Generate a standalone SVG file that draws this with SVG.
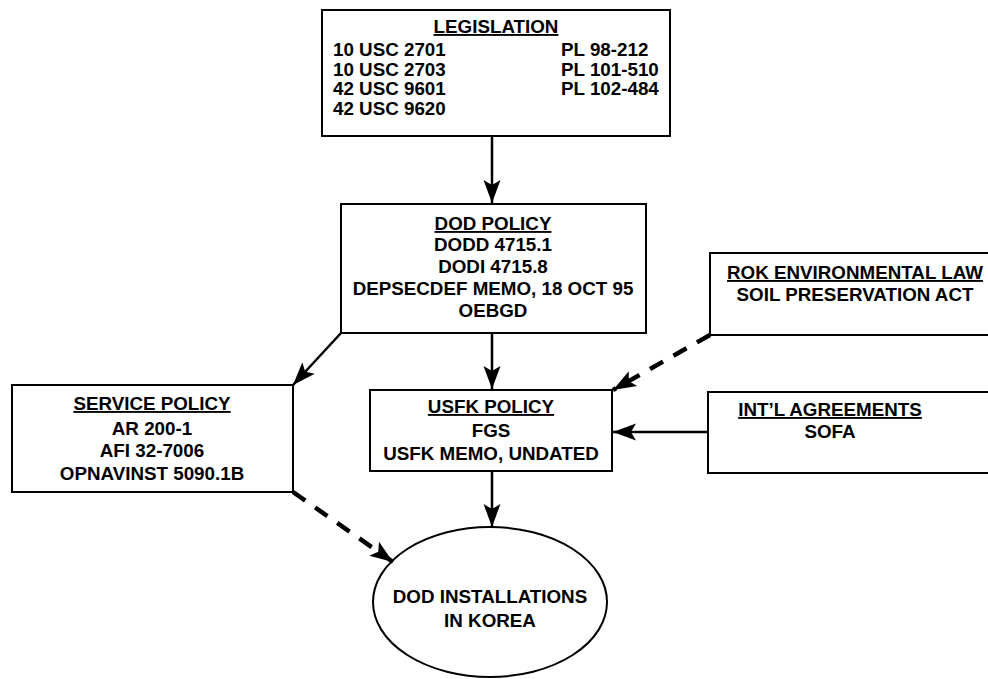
<svg xmlns="http://www.w3.org/2000/svg" width="988" height="679" viewBox="0 0 988 679">
<style>
.box{fill:#fff;stroke:#000;stroke-width:2}
.t{font-family:"Liberation Sans",Arial,sans-serif;font-weight:bold;font-size:18.8px;fill:#000}
.c{text-anchor:middle}
.u{text-decoration:underline}
.ln{fill:none;stroke:#000;stroke-width:2.5}
.dash{fill:none;stroke:#000;stroke-width:4.5;stroke-dasharray:15 12}
</style>
<defs>
<marker id="ah" markerUnits="userSpaceOnUse" markerWidth="26" markerHeight="18" refX="23" refY="8.5" orient="auto" overflow="visible">
<path d="M0,0 L23,8.5 L0,17 L5,8.5 Z" fill="#000"/>
</marker>
</defs>
<rect width="988" height="679" fill="#fff"/>
<g id="legislation">
<rect class="box" x="322" y="10" width="348" height="126"/>
<text class="t c u" x="496" y="33">LEGISLATION</text>
<text class="t" x="333" y="56">10 USC 2701</text>
<text class="t" x="333" y="76">10 USC 2703</text>
<text class="t" x="333" y="95">42 USC 9601</text>
<text class="t" x="333" y="115">42 USC 9620</text>
<text class="t" x="561" y="56">PL 98-212</text>
<text class="t" x="561" y="76">PL 101-510</text>
<text class="t" x="561" y="95">PL 102-484</text>
</g>
<g id="dod-policy">
<rect class="box" x="341" y="204" width="305" height="129"/>
<text class="t c u" x="493" y="230">DOD POLICY</text>
<text class="t c" x="493" y="251">DODD 4715.1</text>
<text class="t c" x="493" y="273">DODI 4715.8</text>
<text class="t c" x="493" y="295">DEPSECDEF MEMO, 18 OCT 95</text>
<text class="t c" x="493" y="317">OEBGD</text>
</g>
<g id="rok-law">
<rect class="box" x="710" y="253" width="290" height="82"/>
<text class="t c u" x="855" y="279">ROK ENVIRONMENTAL LAW</text>
<text class="t c" x="855" y="301">SOIL PRESERVATION ACT</text>
</g>
<g id="service-policy">
<rect class="box" x="12" y="385" width="281" height="107"/>
<text class="t c u" x="152" y="410">SERVICE POLICY</text>
<text class="t c" x="152" y="435">AR 200-1</text>
<text class="t c" x="152" y="457">AFI 32-7006</text>
<text class="t c" x="152" y="480">OPNAVINST 5090.1B</text>
</g>
<g id="usfk-policy">
<rect class="box" x="370" y="390" width="242" height="81"/>
<text class="t c u" x="491" y="413">USFK POLICY</text>
<text class="t c" x="491" y="437">FGS</text>
<text class="t c" x="491" y="460">USFK MEMO, UNDATED</text>
</g>
<g id="intl-agreements">
<rect class="box" x="708" y="392" width="292" height="81"/>
<text class="t c u" x="830" y="416">INT’L AGREEMENTS</text>
<text class="t c" x="830" y="438">SOFA</text>
</g>
<g id="installations">
<ellipse class="box" cx="490" cy="602" rx="117" ry="75"/>
<text class="t c" x="490" y="603">DOD INSTALLATIONS</text>
<text class="t c" x="490" y="627">IN KOREA</text>
</g>
<g id="connectors">
<line class="ln" x1="492" y1="136" x2="492" y2="203" marker-end="url(#ah)"/>
<line class="ln" x1="492" y1="333" x2="492" y2="389" marker-end="url(#ah)"/>
<line class="ln" x1="341" y1="333" x2="293" y2="385" marker-end="url(#ah)"/>
<line class="ln" x1="708" y1="432" x2="613" y2="432" marker-end="url(#ah)"/>
<line class="ln" x1="492" y1="471" x2="492" y2="527" marker-end="url(#ah)"/>
<line class="dash" x1="710" y1="335" x2="613" y2="390" marker-end="url(#ah)"/>
<line class="dash" x1="293" y1="492" x2="393" y2="562" marker-end="url(#ah)"/>
</g>
</svg>
